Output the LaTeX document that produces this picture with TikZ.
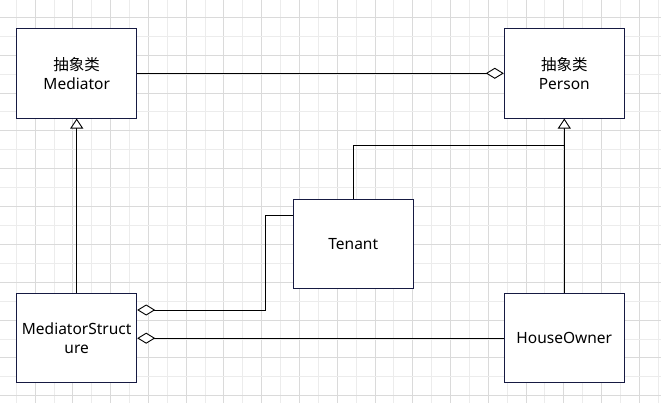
\documentclass[tikz,border=0pt]{standalone}
\usepackage{fontspec}
\setmainfont{Noto Sans}
\newfontfamily\cjk{Noto Sans CJK SC}
\usetikzlibrary{arrows.meta}
\definecolor{boxline}{RGB}{22,26,66}
\definecolor{griddark}{RGB}{218,218,218}
\definecolor{gridlight}{RGB}{236,236,236}
\tikzset{
  cls/.style={draw=boxline, line width=1pt, fill=white, minimum width=120pt, minimum height=89.5pt,
    inner sep=0pt, align=center, font=\fontsize{15.5}{19.5}\selectfont, text=black},
  conn/.style={draw=black, line width=1pt},
  aggr/.style={conn, -{Diamond[open, fill=white, length=18pt, width=11pt, line width=0.9pt]}},
  gen/.style={conn, -{Triangle[open, fill=white, length=10pt, width=13pt, line width=0.9pt]}}
}
\begin{document}
\begin{tikzpicture}[x=1pt,y=-1pt]
\useasboundingbox (0,0) rectangle (661,403);
\fill[white] (0,0) rectangle (661,403);
% grid
\foreach \k in {0,...,34}{
  \pgfmathsetmacro{\xx}{16.2+18.88*\k}
  \pgfmathtruncatemacro{\odd}{mod(\k,2)}
  \ifnum\odd=1
    \draw[griddark, line width=0.8pt] (\xx,0) -- (\xx,403);
  \else
    \draw[gridlight, line width=0.8pt] (\xx,0) -- (\xx,403);
  \fi
}
\foreach \k in {0,...,21}{
  \pgfmathsetmacro{\yy}{17.3+18.92*\k}
  \pgfmathtruncatemacro{\odd}{mod(\k,2)}
  \ifnum\odd=0
    \draw[griddark, line width=0.8pt] (0,\yy) -- (661,\yy);
  \else
    \draw[gridlight, line width=0.8pt] (0,\yy) -- (661,\yy);
  \fi
}
% classes
\node[cls] (med) at (76.7,73.3) {{\cjk 抽象类}\\Mediator};
\node[cls] (per) at (564.3,73.3) {{\cjk 抽象类}\\Person};
\node[cls] (ms) at (76.7,338.2) {MediatorStruct\\ure};
\node[cls] (ten) at (353.3,244.2) {Tenant};
\node[cls] (ho) at (564.3,338.2) {HouseOwner};
% helper coordinates
\coordinate (j) at (564.3,146);
\coordinate (k1) at (265.7,216);
\coordinate (k2) at (265.7,310);
% connectors
\draw[aggr] (med.east) -- (per.west);
\draw[gen] (ms.north) -- (med.south);
\draw[gen] (ho.north) -- (per.south);
\draw[conn] (ten.north) |- (j);
\draw[aggr] (ten.west |- k1) -- (k1) -- (k2) -- (ms.east |- k2);
\draw[aggr] (ho.west) -- (ms.east);
\end{tikzpicture}
\end{document}
